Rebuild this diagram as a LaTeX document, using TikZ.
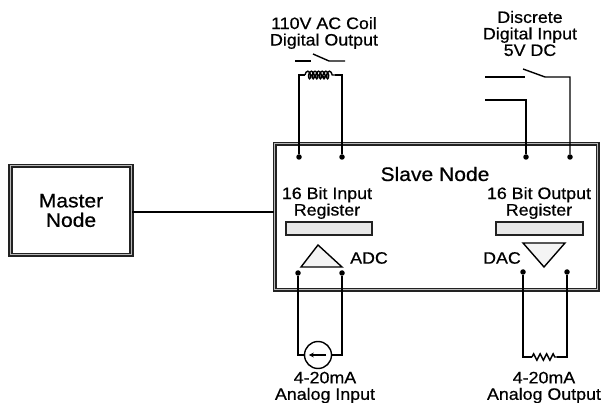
\documentclass[tikz,border=0pt]{standalone}
\usepackage{xcolor}
\usepackage{fontspec}
\setmainfont[FakeStretch=1.08,FakeBold=0.6]{Liberation Sans}
\definecolor{regfill}{HTML}{E8E8E8}
\definecolor{trifill}{HTML}{F4F4F4}
\definecolor{frameink}{HTML}{222222}
\usepackage{tikz}
\usetikzlibrary{positioning,decorations.pathmorphing,arrows.meta}

\tikzset{
  frame/.style={draw=frameink, line width=1.6pt, double=gray!55, double distance=1pt},
  wire/.style={draw=black, line width=1.4pt},
  terminal/.style={circle, fill=black, inner sep=0pt, minimum size=5.5pt},
  register/.style={draw=frameink, line width=1.3pt, fill=regfill},
  converter/.style={draw=black, line width=1.4pt, fill=trifill},
  smalltext/.style={font=\fontsize{16.5}{16.5}\selectfont, align=center, inner sep=0pt},
  bigtext/.style={font=\fontsize{19.5}{19.5}\selectfont, align=center, inner sep=0pt}
}

\begin{document}
\begin{tikzpicture}[x=1pt, y=-1pt]
  \useasboundingbox (0,0) rectangle (605,403);

  \node[frame, minimum width=121pt, minimum height=89pt, bigtext] (master) at (71,210.5) {Master\\Node};
  \node[frame, minimum width=323pt, minimum height=146pt, anchor=north west] (slave) at (274,143) {};
  \draw[wire] (master.east |- 0,212) -- (slave.west |- 0,212);

  \node[bigtext] (slavetitle) at (435,174) {Slave Node};
  \node[smalltext] (inreg) at (327,203) {16 Bit Input\\Register};
  \node[smalltext] (outreg) at (539,203) {16 Bit Output\\Register};
  \node[register, minimum width=86pt, minimum height=13pt] (inbar) at (329,228.5) {};
  \node[register, minimum width=87pt, minimum height=13pt] (outbar) at (539.5,228.5) {};

  \draw[converter] (318,245) -- (342,267) -- (301,267) -- cycle;
  \draw[converter] (523,243) -- (565,243) -- (544,267) -- cycle;
  \node[smalltext] (adc) at (369,258) {ADC};
  \node[smalltext] (dac) at (502,258) {DAC};

  \foreach \name/\x/\y in {
    ctop1/299/157, ctop2/342/157, stop1/526/157, stop2/570/157,
    abot1/298/273, abot2/342/273, dbot1/523/272, dbot2/567/272
  }{
    \node[terminal] (\name) at (\x,\y) {};
  }

  % coil and its contact
  \coordinate (coilL) at (305,75);
  \coordinate (coilR) at (335,75);
  \draw[wire] (ctop1) |- (coilL);
  \draw[wire] (ctop2) |- (coilR);
  \draw[wire, decorate, decoration={coil, aspect=0.5, amplitude=3.8pt, segment length=3.6pt}] (coilL) -- (coilR);
  \coordinate (relayA) at (295,61);
  \coordinate (relayB) at (311,61);
  \coordinate (relayC) at (313,54);
  \coordinate (relayD) at (329,61);
  \coordinate (relayE) at (345,61);
  \draw[wire] (relayA) -- (relayB);
  \draw[wire] (relayC) -- (relayD) -- (relayE);

  % switch
  \coordinate (swA) at (485,77);
  \coordinate (swB) at (525,77);
  \coordinate (swC) at (523,69);
  \coordinate (swD) at (545,77);
  \coordinate (swE) at (485,100);
  \draw[wire] (swA) -- (swB);
  \draw[wire] (swC) -- (swD) -| (stop2);
  \draw[wire] (swE) -| (stop1);

  % current source
  \node[circle, wire, minimum size=27pt, inner sep=0pt] (source) at (318,355) {};
  \draw[wire] (abot1) |- (source.west);
  \draw[wire] (abot2) |- (source.east);
  \draw[wire, -{Stealth[length=5pt,width=5pt]}] (source.east) ++(-6,0) -- ([xshift=5pt]source.west);

  % load resistor
  \coordinate (loadL) at (532,357);
  \coordinate (loadR) at (557,357);
  \draw[wire] (dbot1) |- (loadL);
  \draw[wire] (dbot2) |- (loadR);
  \draw[wire, decorate, decoration={zigzag, amplitude=3.2pt, segment length=6.5pt}] (loadL) -- (loadR);

  \node[smalltext] (coillabel) at (324,33) {110V AC Coil\\Digital Output};
  \node[smalltext] (swlabel) at (530,33.5) {Discrete\\Digital Input\\5V DC};
  \node[smalltext] (inlabel) at (325,387.5) {4-20mA\\Analog Input};
  \node[smalltext] (outlabel) at (544,387.5) {4-20mA\\Analog Output};
\end{tikzpicture}
\end{document}
